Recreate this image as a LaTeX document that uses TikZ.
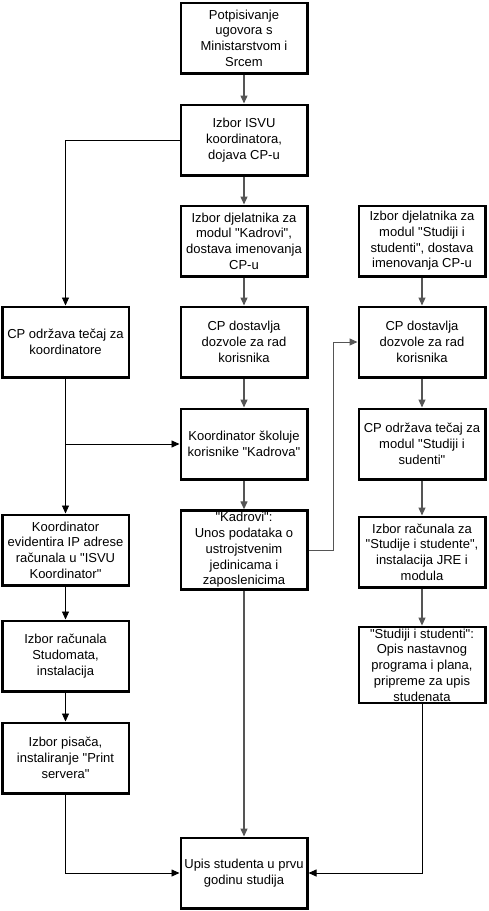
\documentclass[tikz,border=0pt]{standalone}
\usepackage{fontspec}
\setmainfont{Liberation Sans}[Ligatures=TeXOff]
\usepackage{tikz}
\usetikzlibrary{arrows.meta,positioning,calc}
\definecolor{linegray}{RGB}{85,85,85}

\begin{document}
\begin{tikzpicture}[x=1pt,y=-1pt,>={Triangle[length=8pt,width=7pt]},
  every node/.style={font=\fontsize{13}{15.7}\selectfont},
  box/.style={draw,line width=2.5pt,fill=white,align=center,minimum width=126.5pt,minimum height=70.5pt,inner sep=2pt},
  flow/.style={->,draw=linegray,line width=1.4pt},
  link/.style={->,draw=black,line width=0.9pt}]
\useasboundingbox (0,0) rectangle (488,911);
% middle column
\node[box] (sign) at (244,38) {Potpisivanje\\ugovora s\\Ministarstvom i\\Srcem};
\node[box] (coord) at (244,140) {Izbor ISVU\\koordinatora,\\dojava CP-u};
\node[box] (staffK) at (244,241) {Izbor djelatnika za\\modul "Kadrovi",\\dostava imenovanja\\CP-u};
\node[box] (permK) at (244,342) {CP dostavlja\\dozvole za rad\\korisnika};
\node[box] (trainK) at (244,444) {Koordinator školuje\\korisnike "Kadrova"};
\node[box] (entryK) at (244,550) {"Kadrovi":\\Unos podataka o\\ustrojstvenim\\jedinicama i\\zaposlenicima};
\node[box] (enrol) at (244,873) {Upis studenta u prvu\\godinu studija};
% left column
\node[box] (courseC) at (65.5,342) {CP održava tečaj za\\koordinatore};
\node[box] (ipaddr) at (65.5,550) {Koordinator\\evidentira IP adrese\\računala u "ISVU\\Koordinator"};
\node[box] (pcStud) at (65.5,656) {Izbor računala\\Studomata,\\instalacija};
\node[box] (printer) at (65.5,758) {Izbor pisača,\\instaliranje "Print\\servera"};
% right column
\node[box] (staffS) at (422,241) {Izbor djelatnika za\\modul "Studiji i\\studenti", dostava\\imenovanja CP-u};
\node[box] (permS) at (422,342) {CP dostavlja\\dozvole za rad\\korisnika};
\node[box] (courseS) at (422,444) {CP održava tečaj za\\modul "Studiji i\\sudenti"};
\node[box] (pcS) at (422,552) {Izbor računala za\\"Studije i studente",\\instalacija JRE i\\modula};
\node[box] (entryS) at (422,665) {"Studiji i studenti":\\Opis nastavnog\\programa i plana,\\pripreme za upis\\studenata};
% connectors
\draw[flow] (sign) -- (coord);
\draw[flow] (coord) -- (staffK);
\draw[flow] (staffK) -- (permK);
\draw[flow] (permK) -- (trainK);
\draw[flow] (trainK) -- (entryK);
\draw[flow] (entryK) -- (enrol);
\draw[flow,line width=1pt] (entryK.east) -- ++(25,0) |- (permS.west);
\draw[flow,line width=1.1pt] (staffS) -- (permS);
\draw[flow,line width=1.1pt] (permS) -- (courseS);
\draw[flow,line width=1.1pt] (courseS) -- (pcS);
\draw[flow,line width=1.1pt] (pcS) -- (entryS);
\draw[link] (coord.west) -| (courseC.north);
\draw[link] (courseC) -- (ipaddr);
\coordinate (split) at (courseC.south |- trainK.west);
\draw[link] (split) -- (trainK.west);
\draw[link] (ipaddr) -- (pcStud);
\draw[link] (pcStud) -- (printer);
\draw[link] (printer.south) |- (enrol.west);
\draw[link] (entryS.south) |- (enrol.east);
\end{tikzpicture}
\end{document}
